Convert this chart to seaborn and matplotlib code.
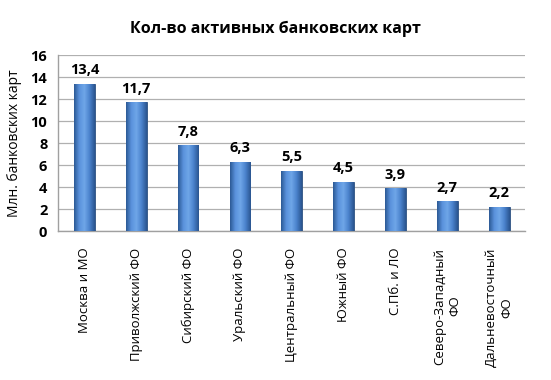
#!/usr/bin/env python3

import numpy as np
import pandas as pd
import matplotlib
matplotlib.use("Agg")
import matplotlib.pyplot as plt
from matplotlib.colors import LinearSegmentedColormap
import seaborn as sns

## Data
regions = ["Москва и МО", "Приволжский ФО", "Сибирский ФО", "Уральский ФО",
           "Центральный ФО", "Южный ФО", "С.Пб. и ЛО", "Северо-Западный\nФО",
           "Дальневосточный\nФО"]
cards_mln = [13.4, 11.7, 7.8, 6.3, 5.5, 4.5, 3.9, 2.7, 2.2]
y_ticks = [0, 2, 4, 6, 8, 10, 12, 14, 16]

sns.set_style("white")
plt.rcParams['font.family'] = ['Open Sans', 'DejaVu Sans']
plt.rcParams['text.color'] = 'black'
plt.rcParams['xtick.color'] = 'black'
plt.rcParams['ytick.color'] = 'black'
plt.rcParams['axes.labelcolor'] = 'black'

data = pd.DataFrame({"Region": regions, "Cards": cards_mln})

fig = plt.figure(figsize=(5.51, 3.8), dpi=100)
ax = fig.add_axes([0.106, 0.392, 0.847, 0.463])

sns.barplot(x="Region", y="Cards", data=data, color="#4a7ebf", width=0.4,
            ax=ax, zorder=3)

# cylinder-like shading for the bars
shade = LinearSegmentedColormap.from_list(
    "shade", ["#2c5a96", "#5a92dc", "#6fa6e8", "#4a82cc", "#2a5590"])
grad = np.linspace(0, 1, 64).reshape(1, -1)
for bar in ax.patches:
    x0, y0 = bar.get_x(), bar.get_y()
    w, h = bar.get_width(), bar.get_height()
    img = ax.imshow(grad, cmap=shade, aspect="auto", zorder=4,
                    extent=[x0, x0 + w, y0, y0 + h])
    img.set_clip_path(bar)
    bar.set_edgecolor("#2a4f80")
    bar.set_linewidth(0.6)

ax.set_ylim(0, 16)
ax.set_yticks(y_ticks)
ax.set_yticklabels([str(t) for t in y_ticks], fontsize=10.5, fontweight="bold")
ax.set_xlim(-0.5, len(regions) - 0.5)
ax.yaxis.grid(True, color="#b0b0b0", linewidth=0.9, zorder=0)
ax.set_axisbelow(True)

ax.set_xticks(range(len(regions)))
ax.set_xticklabels(regions, rotation=90, fontsize=9.5,
                   va="top", ha="center", multialignment="center")
ax.tick_params(axis="x", length=0, pad=12)
ax.tick_params(axis="y", length=0, pad=8)

for i, v in enumerate(cards_mln):
    ax.text(i, v + 0.6, f"{v:.1f}".replace(".", ","), ha="center", va="bottom",
            fontsize=10.5, fontweight="bold")

for s in ["top", "right"]:
    ax.spines[s].set_visible(False)
for s in ["left", "bottom"]:
    ax.spines[s].set_color("#a0a0a0")
    ax.spines[s].set_linewidth(1)

ax.set_xlabel("")
ax.set_ylabel("Млн. банковских карт", fontsize=10, labelpad=6)

fig.text(0.5, 0.925, "Кол-во активных банковских карт", ha="center",
         va="center", fontsize=11.5, fontweight="bold")

plt.savefig("out.png", dpi=100)
plt.close()
